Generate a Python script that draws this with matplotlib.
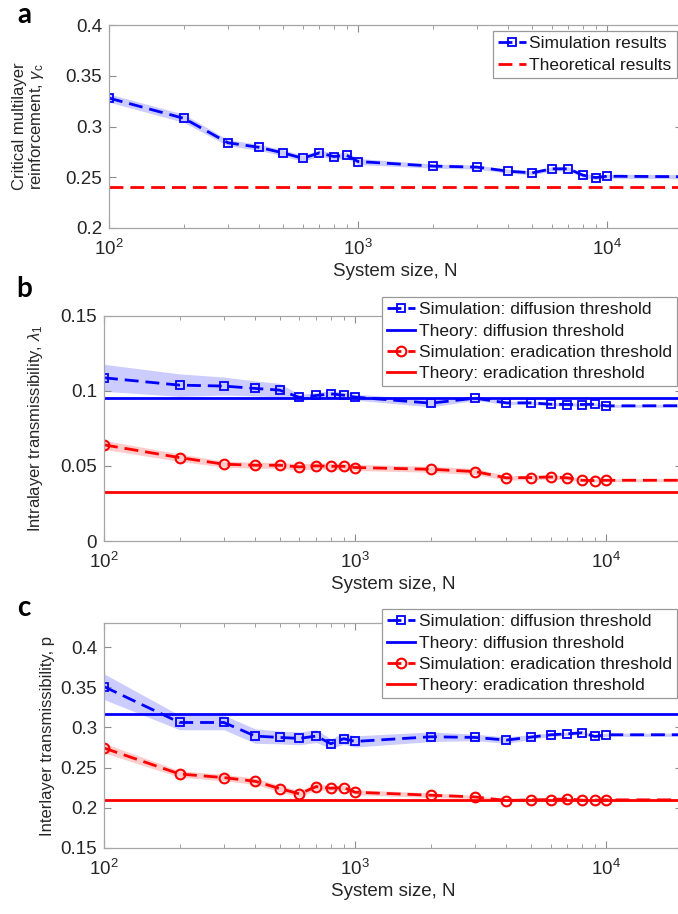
import matplotlib
matplotlib.use("Agg")
import matplotlib.pyplot as plt
import numpy as np
from matplotlib.ticker import FixedLocator, FormatStrFormatter

plt.rcParams['font.family'] = ['Liberation Sans', 'DejaVu Sans']
plt.rcParams['mathtext.fontset'] = 'custom'
plt.rcParams['mathtext.rm'] = 'Liberation Sans'
plt.rcParams['mathtext.it'] = 'Liberation Sans:italic'

# system sizes (last one lies past the right edge of the axes)
N = [100, 200, 300, 400, 500, 600, 700, 800, 900, 1000,
     2000, 3000, 4000, 5000, 6000, 7000, 8000, 9000, 10000, 50000]

# panel a
gamma_sim = [0.328, 0.308, 0.284, 0.2795, 0.274, 0.2687, 0.274, 0.2704, 0.2717, 0.2655,
             0.261, 0.260, 0.256, 0.2543, 0.2583, 0.2583, 0.252, 0.2497, 0.251, 0.250]
gamma_err = [0.004, 0.004, 0.003, 0.003, 0.003, 0.003, 0.003, 0.003, 0.003, 0.003,
             0.002, 0.002, 0.002, 0.002, 0.002, 0.002, 0.002, 0.002, 0.002, 0.002]
gamma_theory = 0.24

# panel b
lam_diff = [0.1088, 0.1039, 0.1033, 0.1017, 0.1006, 0.0957, 0.097, 0.0981, 0.0972, 0.0959,
            0.0919, 0.0952, 0.0921, 0.0921, 0.0912, 0.091, 0.091, 0.0912, 0.0901, 0.0903]
lam_diff_err = [0.009, 0.0075, 0.006, 0.005, 0.0045, 0.002, 0.002, 0.002, 0.002, 0.002,
                0.0025, 0.0015, 0.001, 0.001, 0.001, 0.001, 0.001, 0.001, 0.001, 0.001]
lam_erad = [0.0641, 0.0556, 0.0512, 0.0505, 0.0505, 0.0494, 0.0501, 0.0498, 0.0498, 0.0490,
            0.0478, 0.0463, 0.0421, 0.0423, 0.0427, 0.0421, 0.0405, 0.0403, 0.0405, 0.0405]
lam_erad_err = [0.003, 0.0025, 0.002, 0.002, 0.002, 0.002, 0.002, 0.002, 0.002, 0.002,
                0.002, 0.002, 0.0015, 0.0015, 0.0015, 0.0015, 0.001, 0.001, 0.001, 0.001]
lam_diff_theory = 0.095
lam_erad_theory = 0.0327

# panel c
p_diff = [0.3508, 0.3062, 0.3062, 0.2893, 0.2876, 0.2864, 0.2893, 0.2798, 0.286, 0.2826,
          0.2884, 0.2876, 0.2843, 0.288, 0.2909, 0.2921, 0.2934, 0.2888, 0.2909, 0.291]
p_diff_err = [0.016, 0.009, 0.009, 0.009, 0.008, 0.008, 0.008, 0.006, 0.007, 0.007,
              0.006, 0.004, 0.004, 0.003, 0.002, 0.002, 0.002, 0.002, 0.002, 0.002]
p_erad = [0.2744, 0.2421, 0.2376, 0.233, 0.224, 0.2174, 0.2264, 0.2244, 0.2252, 0.2194,
          0.2157, 0.2136, 0.2091, 0.2099, 0.2103, 0.2112, 0.2095, 0.2095, 0.2099, 0.21]
p_erad_err = [0.006, 0.004, 0.004, 0.004, 0.004, 0.004, 0.004, 0.003, 0.003, 0.003,
              0.003, 0.002, 0.001, 0.001, 0.001, 0.001, 0.001, 0.001, 0.001, 0.001]
p_diff_theory = 0.3165
p_erad_theory = 0.21

BLUE = (0, 0, 1)
RED = (1, 0, 0)
DASH = (0, (5, 2.5))

W, H = 678, 914
fig = plt.figure(figsize=(W / 100, H / 100), dpi=100)


def make_axes(left, top, right, bottom):
    return fig.add_axes([left / W, 1 - bottom / H, (right - left) / W, (bottom - top) / H])


def style(ax, yticks, ylim, ylabel, label_x):
    ax.set_xscale('log')
    ax.set_xlim(100, 2e4)
    ax.set_ylim(*ylim)
    ax.xaxis.set_major_locator(FixedLocator([1e2, 1e3, 1e4]))
    ax.set_xticklabels(['$10^{2}$', '$10^{3}$', '$10^{4}$'])
    ax.xaxis.set_minor_locator(FixedLocator([m * 10 ** d for d in (2, 3, 4) for m in range(2, 10)]))
    ax.yaxis.set_major_locator(FixedLocator(yticks))
    ax.yaxis.set_major_formatter(FormatStrFormatter('%g'))
    ax.tick_params(which='both', direction='in', top=True, right=True, color='0.55',
                   labelcolor='0.15', labelsize=13.5)
    ax.tick_params(which='major', length=5, pad=5)
    ax.tick_params(axis='x', which='major', pad=8)
    ax.tick_params(which='minor', length=3)
    for s in ax.spines.values():
        s.set_color('0.65')
        s.set_linewidth(0.9)
    ax.set_xlabel('System size, N', fontsize=13.5, color='0.15', labelpad=3)
    ax.set_ylabel(ylabel, fontsize=12, color='0.15', linespacing=1.0)
    ax.yaxis.set_label_coords(label_x, 0.5)


def band(ax, y, err, color):
    y = np.array(y)
    err = np.array(err)
    ax.fill_between(N, y - err, y + err, color=color, alpha=0.2, lw=0)


# ---- a ----
ax1 = make_axes(109, 25, 682, 228)
band(ax1, gamma_sim, gamma_err, BLUE)
ax1.plot(N, gamma_sim, linestyle=DASH, color=BLUE, lw=2, marker='s', ms=6,
         mfc='none', mew=1.3, label='Simulation results')
ax1.axhline(gamma_theory, linestyle=DASH, color=RED, lw=2, label='Theoretical results')
style(ax1, [0.2, 0.25, 0.3, 0.35, 0.4], (0.2, 0.4),
      'Critical multilayer\nreinforcement, $\\gamma_{\\rm c}$', -0.11)

# ---- b ----
ax2 = make_axes(104, 316, 682, 541)
band(ax2, lam_diff, lam_diff_err, BLUE)
band(ax2, lam_erad, lam_erad_err, RED)
ax2.plot(N, lam_diff, linestyle=DASH, color=BLUE, lw=2, marker='s', ms=6,
         mfc='none', mew=1.3, label='Simulation: diffusion threshold')
ax2.axhline(lam_diff_theory, color=BLUE, lw=2, label='Theory: diffusion threshold')
ax2.plot(N, lam_erad, linestyle=DASH, color=RED, lw=2, marker='o', ms=7,
         mfc='none', mew=1.5, label='Simulation: eradication threshold')
ax2.axhline(lam_erad_theory, color=RED, lw=2, label='Theory: eradication threshold')
style(ax2, [0, 0.05, 0.1, 0.15], (0, 0.15), 'Intralayer transmissibility, $\\lambda_1$', -0.102)

# ---- c ----
ax3 = make_axes(104, 623, 682, 848)
band(ax3, p_diff, p_diff_err, BLUE)
band(ax3, p_erad, p_erad_err, RED)
ax3.plot(N, p_diff, linestyle=DASH, color=BLUE, lw=2, marker='s', ms=6,
         mfc='none', mew=1.3, label='Simulation: diffusion threshold')
ax3.axhline(p_diff_theory, color=BLUE, lw=2, label='Theory: diffusion threshold')
ax3.plot(N, p_erad, linestyle=DASH, color=RED, lw=2, marker='o', ms=7,
         mfc='none', mew=1.5, label='Simulation: eradication threshold')
ax3.axhline(p_erad_theory, color=RED, lw=2, label='Theory: eradication threshold')
style(ax3, [0.15, 0.2, 0.25, 0.3, 0.35, 0.4], (0.15, 0.43),
      'Interlayer transmissibility, p', -0.085)

leg_kw = dict(loc='upper right', fontsize=12.5, fancybox=False, framealpha=1,
              edgecolor='0.6', handlelength=1.6, handletextpad=0.2,
              labelspacing=0.35, borderpad=0.3, borderaxespad=0)
for ax, anchor in ((ax1, (0.991, 0.97)), (ax2, (0.991, 1.084)), (ax3, (0.991, 1.062))):
    leg = ax.legend(bbox_to_anchor=anchor, **leg_kw)
    leg.get_frame().set_linewidth(0.9)
    for t in leg.get_texts():
        t.set_color('0.1')

for letter, y in (('a', 15), ('b', 289), ('c', 608)):
    fig.text(24 / W, 1 - y / H, letter, fontsize=20, fontweight='bold',
             family=['Lato', 'DejaVu Sans'], ha='center', va='center')

fig.savefig('out.png', dpi=100)
